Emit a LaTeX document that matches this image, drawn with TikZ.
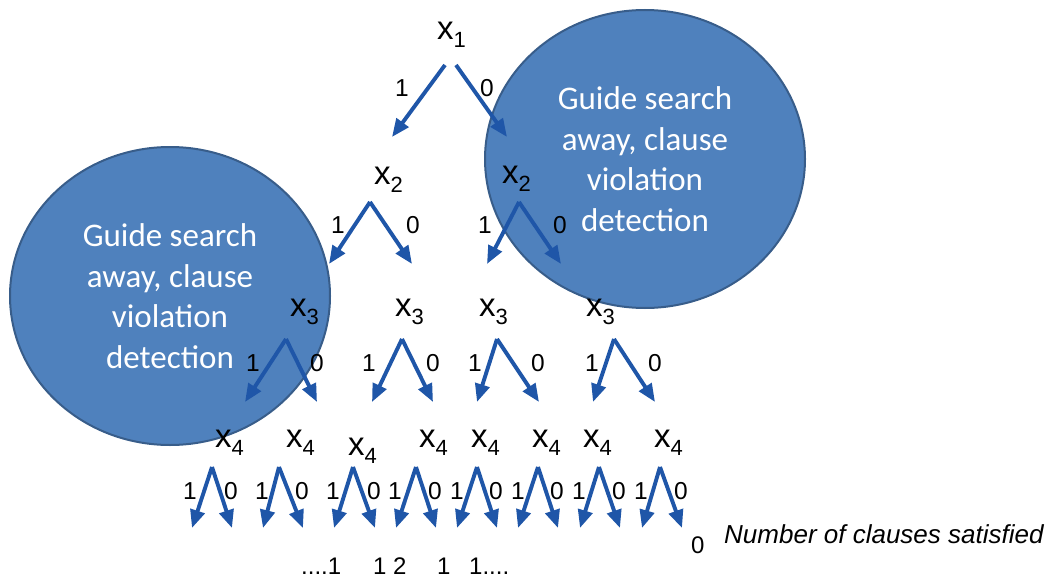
\documentclass[tikz,border=0pt]{standalone}
\usepackage{fontspec}
\setmainfont{Liberation Sans}
\newfontfamily\carlito{Carlito}
\usetikzlibrary{arrows.meta,shapes.geometric}
\definecolor{blobfill}{RGB}{79,129,189}
\definecolor{blobline}{RGB}{56,93,138}
\definecolor{branchblue}{RGB}{31,86,168}
\newcommand\xvar[1]{x\raisebox{-8pt}{\fontsize{22}{22}\selectfont #1}}
\tikzset{
  blob/.style={ellipse, fill=blobfill, draw=blobline, line width=2pt,
    minimum width=320pt, minimum height=298pt, inner sep=0pt,
    text=white, align=center, font=\carlito\fontsize{33}{40.6}\selectfont},
  branch/.style={draw=branchblue, line width=3.9pt,
    -{Triangle[length=18pt,width=14.5pt]}},
  var/.style={anchor=base west, inner sep=0pt, font=\fontsize{33}{33}\selectfont},
  bit/.style={inner sep=0pt, font=\fontsize{24.5}{24.5}\selectfont},
  count/.style={anchor=base west, inner sep=0pt, font=\fontsize{24}{24}\selectfont},
}
\begin{document}
\begin{tikzpicture}[x=1pt,y=-1pt]
\useasboundingbox (0,0) rectangle (1050,578);

% pruning regions
\node[blob] (guideL) at (170,296) {Guide search\\away, clause\\violation\\detection};
\node[blob] (guideR) at (645,159) {Guide search\\away, clause\\violation\\detection};

% level 1
\node[var] (x1) at (437,40) {\xvar{1}};
\coordinate (x1s1) at (445,65);
\coordinate (x1s0) at (456,65);
\coordinate (x1e1) at (392,137);
\coordinate (x1e0) at (507,137);
\draw[branch] (x1s1) -- (x1e1);
\draw[branch] (x1s0) -- (x1e0);
\node[bit] (x1b1) at (402,88) {1};
\node[bit] (x1b0) at (487,88) {0};

% level 2
\node[var] (x2a) at (374,184) {\xvar{2}};
\node[var] (x2b) at (502,183) {\xvar{2}};
\foreach \n/\a/\l/\r/\lb/\rb in {a/370/329/412/338/413, b/519/487/561/485/560}{
  \coordinate (x2\n top) at (\a,202);
  \coordinate (x2\n one) at (\l,264);
  \coordinate (x2\n zero) at (\r,264);
  \draw[branch] (x2\n top) -- (x2\n one);
  \draw[branch] (x2\n top) -- (x2\n zero);
  \node[bit] (x2\n b1) at (\lb,225) {1};
  \node[bit] (x2\n b0) at (\rb,225) {0};
}

% level 3
\foreach \n/\t/\a/\l/\r/\lb/\rb in {
  a/290/286/245/317/253/317,
  b/395/402/372/433/369/433,
  c/479/497/477/539/475/538,
  d/586/614/593/655/592/655}{
  \node[var] (x3\n) at (\t,316) {\xvar{3}};
  \coordinate (x3\n top) at (\a,339);
  \coordinate (x3\n one) at (\l,402);
  \coordinate (x3\n zero) at (\r,402);
  \draw[branch] (x3\n top) -- (x3\n one);
  \draw[branch] (x3\n top) -- (x3\n zero);
  \node[bit] (x3\n b1) at (\lb,363) {1};
  \node[bit] (x3\n b0) at (\rb,363) {0};
}

% level 4
\foreach \n/\t/\y/\a/\l/\r/\lb/\rb in {
  a/215/447/212/192/232/190/231,
  b/286/447/279/263/303/262/302,
  c/348/455/353/334/375/333/374,
  d/419/447/416/396/436/395/435,
  e/471/447/477/457/497/457/496,
  f/532/447/538/518/558/518/557,
  g/583/447/599/580/620/579/619,
  h/654/447/660/642/682/641/681}{
  \node[var] (x4\n) at (\t,\y) {\xvar{4}};
  \coordinate (x4\n top) at (\a,467);
  \coordinate (x4\n one) at (\l,528);
  \coordinate (x4\n zero) at (\r,528);
  \draw[branch] (x4\n top) -- (x4\n one);
  \draw[branch] (x4\n top) -- (x4\n zero);
  \node[bit] (x4\n b1) at (\lb,491) {1};
  \node[bit] (x4\n b0) at (\rb,491) {0};
}

% clause counts at the leaves
\node[count] (c1) at (301,574) {....1};
\node[count] (c2) at (373,574) {1 2};
\node[count] (c3) at (437,574) {1};
\node[count] (c4) at (469,574) {1....};
\node[count] (c5) at (691,553) {0};
\node[anchor=base west, inner sep=0pt, font=\fontsize{26}{26}\selectfont\itshape]
  (caption) at (724,543) {Number of clauses satisfied};
\end{tikzpicture}
\end{document}
